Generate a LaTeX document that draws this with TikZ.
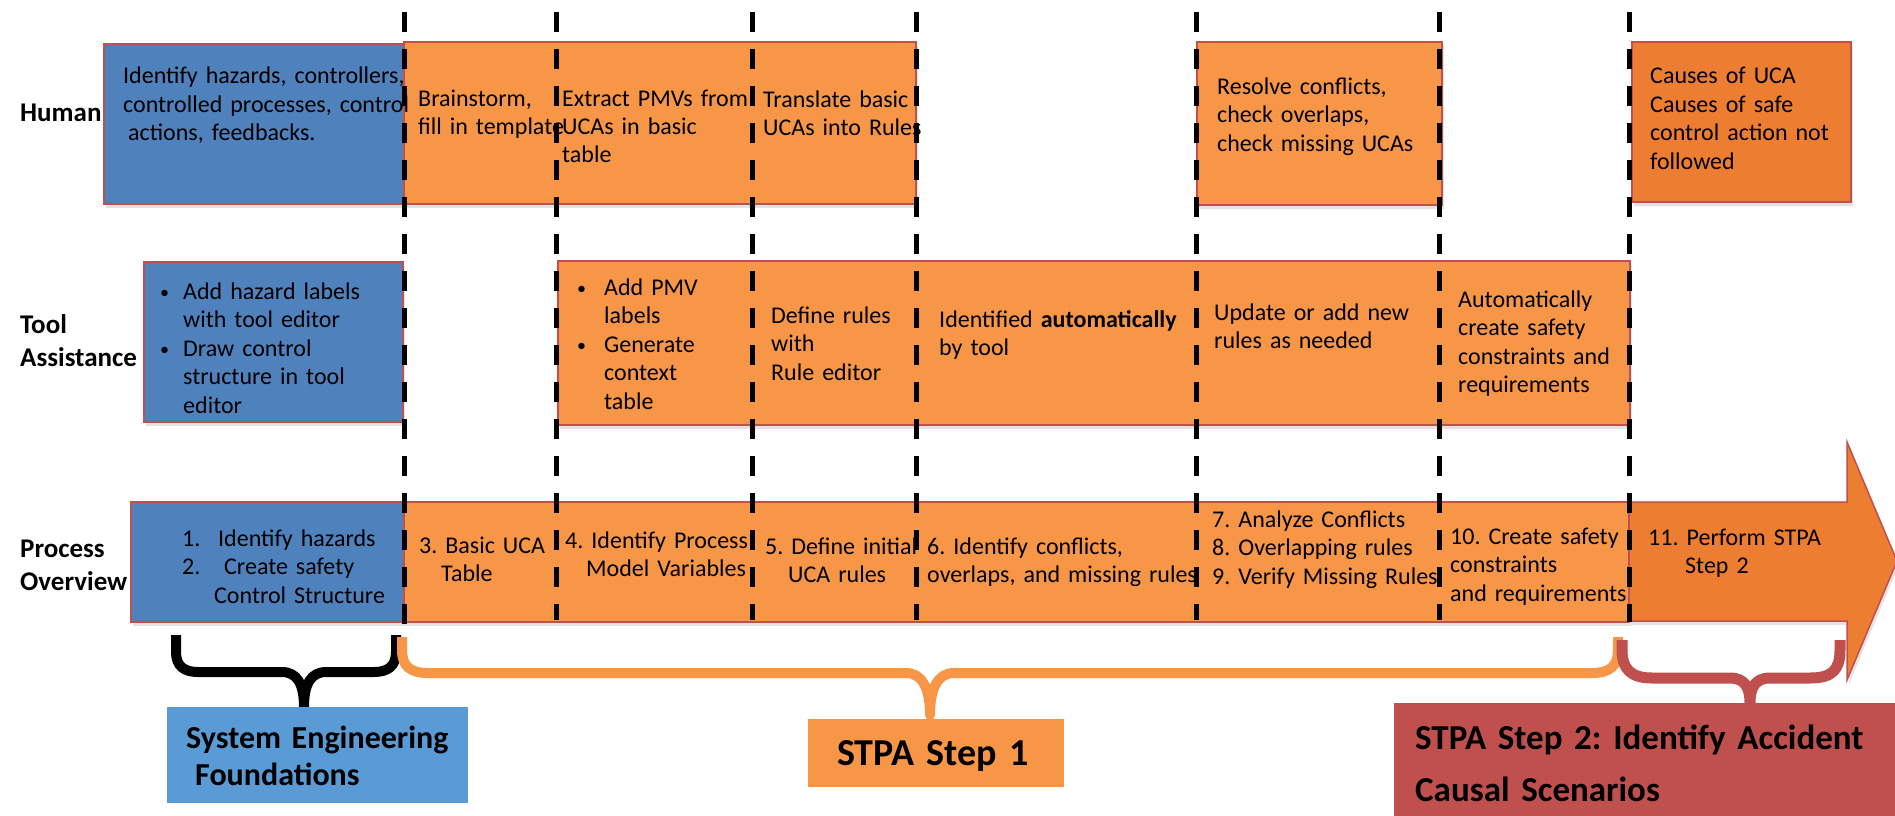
\documentclass[tikz,border=0pt]{standalone}
\usepackage{fontspec}
\setmainfont{Carlito}
\usetikzlibrary{shadows}
\definecolor{boxblue}{HTML}{4F81BD}
\definecolor{boxorange}{HTML}{F79646}
\definecolor{boxdark}{HTML}{ED7D31}
\definecolor{bordercol}{HTML}{C0504D}
\definecolor{sefblue}{HTML}{5B9BD5}
\definecolor{redbox}{HTML}{C0504D}
\newcommand\bodyfont{\fontsize{24}{28.5}\selectfont\frenchspacing}
\newcommand\rowfont{\fontsize{27}{33}\selectfont\bfseries\frenchspacing}
\newcommand\bul{\raisebox{1pt}{\fontsize{18}{18}\selectfont •}}
\tikzset{
  box/.style={draw=bordercol, line width=1.5pt, anchor=north west, inner sep=0pt, outer sep=0pt,
    drop shadow={opacity=0.22, shadow xshift=2pt, shadow yshift=-4pt}},
  bluebox/.style={box, fill=boxblue},
  orbox/.style={box, fill=boxorange},
  dorbox/.style={box, fill=boxdark},
  lblbox/.style={anchor=north west, inner sep=0pt, outer sep=0pt, draw=none},
  txt/.style={anchor=base west, inner sep=0pt, text width=420pt, align=left, font=\bodyfont},
  rowlab/.style={anchor=base west, inner sep=0pt, text width=200pt, align=left, font=\rowfont},
  lbltxt/.style={anchor=base west, inner sep=0pt, text width=520pt, align=left},
  sepline/.style={line width=5pt, dash pattern=on 20pt off 17pt, black},
  brace/.style={line width=10pt, line join=round, line cap=butt},
}
\begin{document}
\begin{tikzpicture}[x=1pt,y=-1pt]
\useasboundingbox (0,0) rectangle (1895,816);
\fill[white] (0,0) rectangle (1895,816);

% ---------- Human row ----------
\node[bluebox, minimum width=300pt, minimum height=160pt] (hb) at (104,44) {};
\node[orbox, minimum width=512pt, minimum height=162pt] (ho1) at (404,42) {};
\node[orbox, minimum width=245pt, minimum height=163pt] (ho2) at (1197,42) {};
\node[dorbox, minimum width=219pt, minimum height=160pt] (ho3) at (1632,42) {};

\node[txt] (hbt) at (123,84) {Identify hazards, controllers,\\controlled processes, control\\\hspace*{5pt}actions, feedbacks.};
\node[txt] (h1t) at (418,106) {Brainstorm,\\fill in template};
\node[txt] (h2t) at (562,106) {Extract PMVs from\\UCAs in basic\\table};
\node[txt] (h3t) at (763,107) {Translate basic\\UCAs into Rules};
\node[txt] (h4t) at (1217,94) {Resolve conflicts,\\check overlaps,\\check missing UCAs};
\node[txt] (h5t) at (1650,84) {Causes of UCA\\Causes of safe\\control action not\\followed};

% ---------- Tool row ----------
\node[bluebox, minimum width=259pt, minimum height=160pt] (tb) at (144,262) {};
\node[orbox, minimum width=1072pt, minimum height=164pt] (to) at (558,261) {};

\node[txt] (tbt) at (160,299) {\makebox[23pt][l]{\bul}Add hazard labels\\\hspace*{23pt}with tool editor\\\makebox[23pt][l]{\bul}Draw control\\\hspace*{23pt}structure in tool\\\hspace*{23pt}editor};
\node[txt] (t1t) at (577,295) {\makebox[27pt][l]{\bul}Add PMV\\\hspace*{27pt}labels\\\makebox[27pt][l]{\bul}Generate\\\hspace*{27pt}context\\\hspace*{27pt}table};
\node[txt] (t2t) at (771,323) {Define rules\\with\\Rule editor};
\node[txt] (t3t) at (939,327) {Identified \textbf{automatically}\\by tool};
\node[txt] (t4t) at (1214,320) {Update or add new\\rules as needed};
\node[txt] (t5t) at (1458,307) {Automatically\\create safety\\constraints and\\requirements};

% ---------- Process row ----------
\node[bluebox, minimum width=273pt, minimum height=120pt] (pb) at (131,502) {};
\node[orbox, minimum width=1225pt, minimum height=120pt] (po) at (404,502) {};
\draw[draw=bordercol, line width=1.5pt, fill=boxdark,
  drop shadow={opacity=0.22, shadow xshift=2pt, shadow yshift=-4pt}]
  (1629,502) -- (1847,502) -- (1847,442) -- (1897,561) -- (1847,680) -- (1847,621) -- (1629,621) -- cycle;

\node[txt] (pbt) at (182,546) {\makebox[36pt][l]{1.}Identify hazards\\\makebox[42pt][l]{2.}Create safety\\\hspace*{32pt}Control Structure};
\node[txt] (p3t) at (419,553) {3. Basic UCA\\\hspace*{22pt}Table};
\node[txt] (p4t) at (565,548) {4. Identify Process\\\hspace*{21pt}Model Variables};
\node[txt] (p5t) at (765,554) {5. Define initial\\\hspace*{23pt}UCA rules};
\node[txt] (p6t) at (927,554) {6. Identify conflicts,\\overlaps, and missing rules};
\node[txt] (p7t) at (1212,527) {7. Analyze Conflicts\\8. Overlapping rules\\9. Verify Missing Rules};
\node[txt] (p10t) at (1450,544) {10. Create safety\\constraints\\and requirements};
\node[txt] (p11t) at (1648,545) {11. Perform STPA\\\hspace*{37pt}Step 2};

% ---------- Row labels ----------
\node[rowlab] (lh) at (20,121) {Human};
\node[rowlab] (lt) at (20,333) {Tool\\Assistance};
\node[rowlab] (lp) at (20,557) {Process\\Overview};

% ---------- Dashed separators ----------
\foreach \i/\x/\b in {1/404/630, 2/556/620, 3/752/620, 4/916/620, 5/1196/620, 6/1439/620, 7/1629/622} {
  \coordinate (s\i t) at (\x,12);
  \coordinate (s\i b) at (\x,\b);
  \draw[sepline] (s\i t) -- (s\i b);
}

% ---------- Braces ----------
\draw[brace, draw=black]
  (176,635) -- (176,652) .. controls (176,666) and (184,672) .. (198,672) -- (282,672)
  .. controls (297,672) and (304,684) .. (304,707)
  .. controls (304,684) and (311,672) .. (326,672) -- (374,672)
  .. controls (388,672) and (396,666) .. (396,652) -- (396,635);
\draw[brace, draw=boxorange]
  (402,637) -- (402,650) .. controls (402,666) and (410,673) .. (428,673) -- (906,673)
  .. controls (922,673) and (930,688) .. (930,715)
  .. controls (930,688) and (938,673) .. (954,673) -- (1592,673)
  .. controls (1610,673) and (1618,666) .. (1618,650) -- (1618,637);
\draw[brace, draw=redbox, line width=11pt]
  (1622,640) -- (1622,650) .. controls (1622,670) and (1632,678) .. (1652,678) -- (1730,678)
  .. controls (1745,678) and (1750,688) .. (1750,703)
  .. controls (1750,688) and (1755,678) .. (1770,678) -- (1810,678)
  .. controls (1832,678) and (1840,670) .. (1840,650) -- (1840,640);

% ---------- Phase labels ----------
\node[lblbox, fill=sefblue, minimum width=301pt, minimum height=96pt] (sef) at (167,707) {};
\node[lbltxt, font=\fontsize{32}{37}\selectfont\bfseries\frenchspacing] (seft) at (186,748) {System Engineering\\\hspace*{9pt}Foundations};
\node[lblbox, fill=boxorange, minimum width=256pt, minimum height=68pt] (st1) at (808,719) {};
\node[lbltxt, font=\fontsize{38}{44}\selectfont\bfseries\frenchspacing] (st1t) at (837,765) {STPA Step 1};
\node[lblbox, fill=redbox, minimum width=505pt, minimum height=115pt] (st2) at (1394,703) {};
\node[lbltxt, font=\fontsize{35}{52}\selectfont\bfseries\frenchspacing] (st2t) at (1415,749) {STPA Step 2: Identify Accident\\Causal Scenarios};
\end{tikzpicture}
\end{document}
